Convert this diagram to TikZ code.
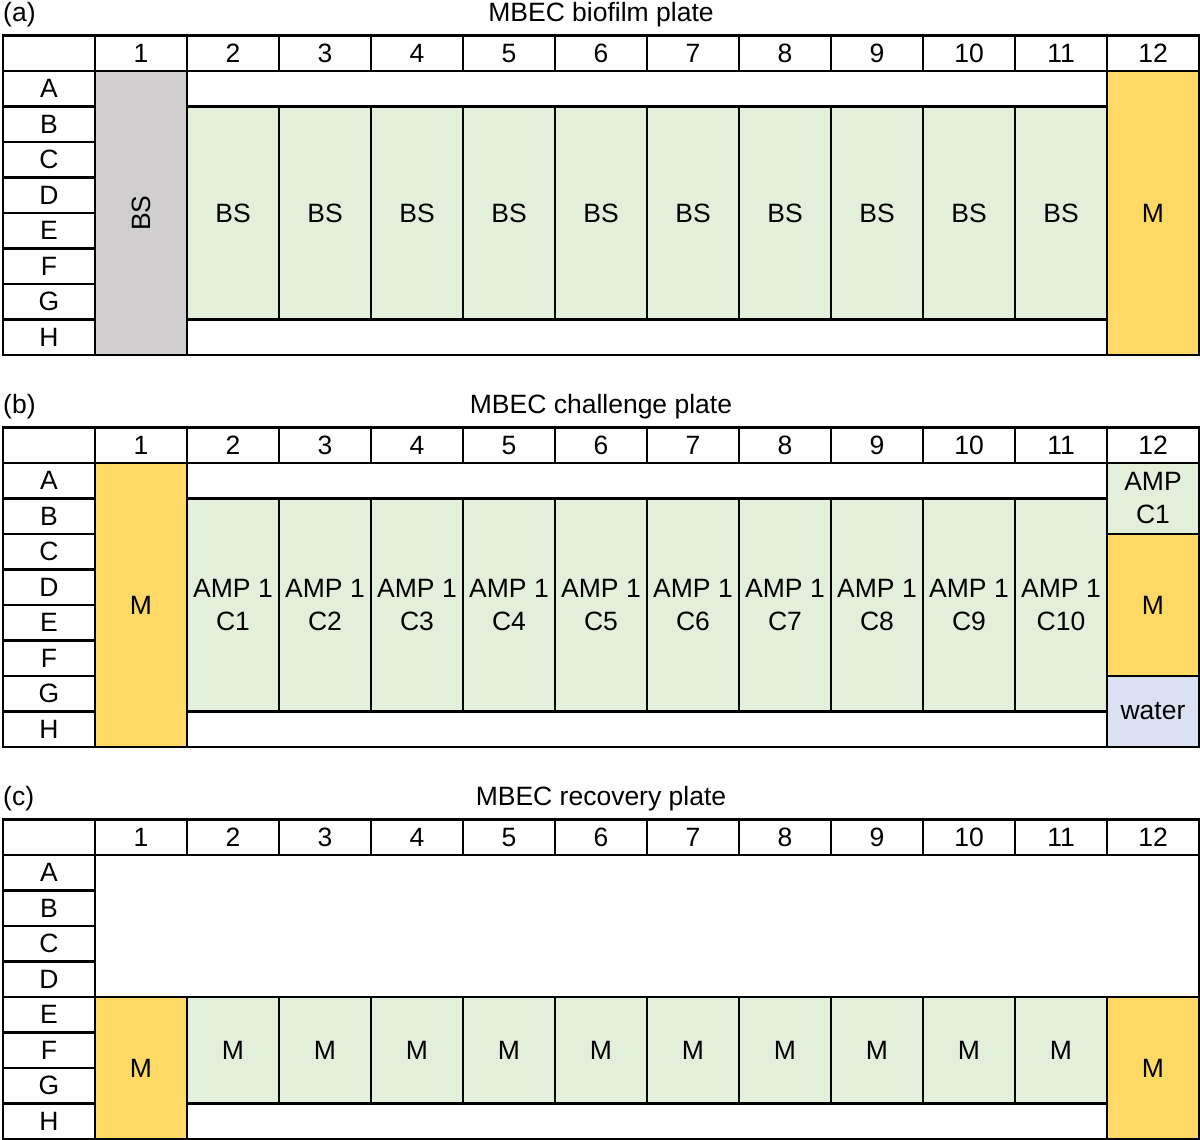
\documentclass[tikz,border=0pt]{standalone}
\usepackage{fontspec}
\setmainfont{Liberation Sans}

\definecolor{biofilmgray}{HTML}{D0CECE}
\definecolor{wellgreen}{HTML}{E2EFDA}
\definecolor{mediumyellow}{HTML}{FFD966}
\definecolor{waterblue}{HTML}{D9E1F2}

% block of wells: options, name, first col, last col, first row, last row, text
\newcommand{\plateblock}[7]{%
  \pgfmathsetmacro{\xa}{95+(#3-1)*92}%
  \pgfmathsetmacro{\xb}{95+#4*92}%
  \pgfmathsetmacro{\ya}{\ptop+35+(#5-1)*35.5}%
  \pgfmathsetmacro{\yb}{\ptop+35+#6*35.5}%
  \node[well, #1, minimum width=\xb-\xa, minimum height=\yb-\ya] (#2) at ({(\xa+\xb)/2}, {(\ya+\yb)/2}) {#7};%
}

\begin{document}
\begin{tikzpicture}[x=1pt, y=-1pt, line join=miter,
    well/.style={draw=black, fill=white, line width=2.6pt, inner sep=0pt, outer sep=0pt, align=center,
      font=\fontsize{26.5}{33}\selectfont},
    paneltag/.style={anchor=west, inner sep=0pt, font=\fontsize{26.5}{30}\selectfont},
    platetitle/.style={inner sep=0pt, font=\fontsize{26.5}{30}\selectfont}]
    \useasboundingbox (0,0) rectangle (1200,1140);

    % --- 1. Biofilm plate ---
    \def\ptop{36}
    \node[paneltag] (a-tag) at (3,\ptop-21) {(a)};
    \node[platetitle] (a-title) at (601,\ptop-21) {MBEC biofilm plate};
    \plateblock{}{a-corner}{0}{0}{0}{0}{}
    \foreach \c in {1,...,12} {\plateblock{}{a-col\c}{\c}{\c}{0}{0}{\c}}
    \foreach \r [count=\i] in {A,B,C,D,E,F,G,H} {\plateblock{}{a-row\r}{0}{0}{\i}{\i}{\r}}
    \plateblock{fill=biofilmgray}{a-bs}{1}{1}{1}{8}{\rotatebox{90}{BS}}
    \plateblock{}{a-emptyA}{2}{11}{1}{1}{}
    \plateblock{}{a-emptyH}{2}{11}{8}{8}{}
    \foreach \c in {2,...,11} {\plateblock{fill=wellgreen}{a-well\c}{\c}{\c}{2}{7}{BS}}
    \plateblock{fill=mediumyellow}{a-medium}{12}{12}{1}{8}{M}

    % --- 2. Challenge plate ---
    \def\ptop{428}
    \node[paneltag] (b-tag) at (3,\ptop-21) {(b)};
    \node[platetitle] (b-title) at (601,\ptop-21) {MBEC challenge plate};
    \plateblock{}{b-corner}{0}{0}{0}{0}{}
    \foreach \c in {1,...,12} {\plateblock{}{b-col\c}{\c}{\c}{0}{0}{\c}}
    \foreach \r [count=\i] in {A,B,C,D,E,F,G,H} {\plateblock{}{b-row\r}{0}{0}{\i}{\i}{\r}}
    \plateblock{fill=mediumyellow}{b-medium}{1}{1}{1}{8}{M}
    \plateblock{}{b-emptyA}{2}{11}{1}{1}{}
    \plateblock{}{b-emptyH}{2}{11}{8}{8}{}
    \foreach \c [count=\k] in {2,...,11} {\plateblock{fill=wellgreen}{b-well\c}{\c}{\c}{2}{7}{AMP 1\\C\k}}
    \plateblock{fill=wellgreen}{b-amp}{12}{12}{1}{2}{AMP\\C1}
    \plateblock{fill=mediumyellow}{b-control}{12}{12}{3}{6}{M}
    \plateblock{fill=waterblue}{b-water}{12}{12}{7}{8}{water}

    % --- 3. Recovery plate ---
    \def\ptop{820}
    \node[paneltag] (c-tag) at (3,\ptop-21) {(c)};
    \node[platetitle] (c-title) at (601,\ptop-21) {MBEC recovery plate};
    \plateblock{}{c-corner}{0}{0}{0}{0}{}
    \foreach \c in {1,...,12} {\plateblock{}{c-col\c}{\c}{\c}{0}{0}{\c}}
    \foreach \r [count=\i] in {A,B,C,D,E,F,G,H} {\plateblock{}{c-row\r}{0}{0}{\i}{\i}{\r}}
    \plateblock{}{c-emptyAD}{1}{12}{1}{4}{}
    \plateblock{fill=mediumyellow}{c-mediumL}{1}{1}{5}{8}{M}
    \plateblock{}{c-emptyH}{2}{11}{8}{8}{}
    \foreach \c in {2,...,11} {\plateblock{fill=wellgreen}{c-well\c}{\c}{\c}{5}{7}{M}}
    \plateblock{fill=mediumyellow}{c-mediumR}{12}{12}{5}{8}{M}
\end{tikzpicture}
\end{document}
